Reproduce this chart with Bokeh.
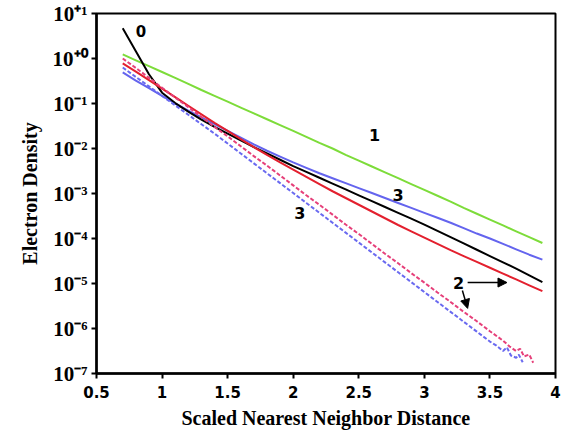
from bokeh.plotting import figure
from bokeh.models import FixedTicker, Arrow, NormalHead, ColumnDataSource
from bokeh.core.properties import value
from bokeh.embed import file_html
from bokeh.resources import INLINE

# ---- data (log10 of electron density) ----
x_grid = [0.7, 0.8, 0.9, 1.0, 1.1, 1.2, 1.3, 1.4, 1.5, 1.6, 1.7, 1.8, 1.9, 2.0, 2.1, 2.2,
          2.3, 2.4, 2.5, 2.6, 2.7, 2.8, 2.9, 3.0, 3.1, 3.2, 3.3, 3.4, 3.5, 3.6, 3.7, 3.8, 3.9]

green_log = [0.09, -0.04, -0.17, -0.30, -0.43, -0.565, -0.70, -0.83, -0.96, -1.09, -1.22,
             -1.35, -1.48, -1.61, -1.74, -1.875, -2.00, -2.14, -2.27, -2.40, -2.53, -2.66,
             -2.79, -2.92, -3.05, -3.18, -3.32, -3.45, -3.58, -3.71, -3.84, -3.97, -4.10]

black_log = [0.67, 0.16, -0.35, -0.76, -0.99, -1.18, -1.36, -1.52, -1.67, -1.82, -1.97,
             -2.11, -2.25, -2.39, -2.52, -2.65, -2.78, -2.91, -3.04, -3.17, -3.30, -3.43,
             -3.56, -3.69, -3.83, -3.97, -4.11, -4.25, -4.39, -4.53, -4.67, -4.82, -4.97]

blue_log = [-0.31, -0.49, -0.66, -0.83, -1.00, -1.16, -1.31, -1.46, -1.61, -1.76, -1.91,
            -2.05, -2.18, -2.31, -2.43, -2.55, -2.66, -2.77, -2.88, -2.99, -3.10, -3.21,
            -3.32, -3.43, -3.54, -3.65, -3.77, -3.89, -4.00, -4.12, -4.24, -4.36, -4.47]

red_log = [-0.11, -0.29, -0.48, -0.67, -0.86, -1.05, -1.24, -1.43, -1.61, -1.79, -1.97,
           -2.14, -2.31, -2.47, -2.63, -2.79, -2.95, -3.10, -3.25, -3.40, -3.55, -3.70,
           -3.84, -3.98, -4.12, -4.26, -4.39, -4.52, -4.65, -4.78, -4.91, -5.04, -5.17]

pink_dot_x = [0.7, 0.8, 0.9, 1.0, 1.1, 1.2, 1.3, 1.4, 1.5, 1.6, 1.7, 1.8, 1.9, 2.0, 2.1,
              2.2, 2.3, 2.4, 2.5, 2.6, 2.7, 2.8, 2.9, 3.0, 3.1, 3.2, 3.3, 3.4, 3.5, 3.6,
              3.65, 3.7, 3.73, 3.76, 3.8, 3.83]
pink_dot_log = [0.00, -0.21, -0.43, -0.65, -0.87, -1.08, -1.30, -1.52, -1.73, -1.95, -2.17,
                -2.38, -2.60, -2.82, -3.04, -3.25, -3.47, -3.69, -3.90, -4.12, -4.34, -4.55,
                -4.77, -4.98, -5.20, -5.41, -5.63, -5.84, -6.06, -6.27,
                -6.40, -6.50, -6.45, -6.62, -6.58, -6.76]

blue_dot_x = [0.7, 0.8, 0.9, 1.0, 1.1, 1.2, 1.3, 1.4, 1.5, 1.6, 1.7, 1.8, 1.9, 2.0, 2.1,
              2.2, 2.3, 2.4, 2.5, 2.6, 2.7, 2.8, 2.9, 3.0, 3.1, 3.2, 3.3, 3.4, 3.5,
              3.55, 3.6, 3.63, 3.66, 3.7, 3.72, 3.75]
blue_dot_log = [-0.20, -0.41, -0.62, -0.83, -1.04, -1.25, -1.46, -1.67, -1.89, -2.11, -2.33,
                -2.55, -2.77, -2.99, -3.21, -3.43, -3.65, -3.87, -4.09, -4.31, -4.53, -4.75,
                -4.97, -5.19, -5.41, -5.63, -5.85, -6.07, -6.29,
                -6.38, -6.50, -6.42, -6.60, -6.65, -6.58, -6.75]

label_text = ["0", "1", "3", "3", "2"]
label_x = [0.84, 2.62, 2.80, 2.05, 3.26]
label_y = [4.0, 1.95e-2, 9.5e-4, 3.6e-4, 1.05e-5]
label_size = ["15px", "16px", "16px", "16px", "16px"]

arrow_x0 = [3.33, 3.29]
arrow_y0 = [1.05e-5, 7.0e-6]
arrow_x1 = [3.63, 3.33]
arrow_y1 = [1.05e-5, 2.8e-6]

x_ticks = [0.5, 1.0, 1.5, 2.0, 2.5, 3.0, 3.5, 4.0]
x_tick_labels = ["0.5", "1", "1.5", "2", "2.5", "3", "3.5", "4"]
y_ticks = [1e-7, 1e-6, 1e-5, 1e-4, 1e-3, 1e-2, 1e-1, 1e0, 1e1]
y_tick_labels = ["10\u207b\u2077", "10\u207b\u2076", "10\u207b\u2075", "10\u207b\u2074",
                 "10\u207b\u00b3", "10\u207b\u00b2", "10\u207b\u00b9", "10\u207a\u2070",
                 "10\u207a\u00b9"]


def dens(logs):
    return [10 ** v for v in logs]


p = figure(width=574, height=436, x_range=(0.5, 4.0), y_range=(1e-7, 1e1),
           y_axis_type="log", output_backend="svg", toolbar_location=None,
           min_border_left=96, min_border_right=19, min_border_top=13,
           min_border_bottom=63)
p.background_fill_color = "white"
p.border_fill_color = "white"
p.xgrid.visible = False
p.ygrid.visible = False
p.outline_line_color = "black"
p.outline_line_width = 2

# axes
p.xaxis.ticker = FixedTicker(ticks=x_ticks, minor_ticks=[])
p.xaxis.major_label_overrides = {t: s for t, s in zip(x_ticks, x_tick_labels)}
p.yaxis.ticker = FixedTicker(ticks=y_ticks, minor_ticks=[])
p.yaxis.major_label_overrides = {t: s for t, s in zip(y_ticks, y_tick_labels)}

for ax in (p.xaxis[0], p.yaxis[0]):
    ax.axis_line_color = "black"
    ax.axis_line_width = 2.5
    ax.major_tick_line_color = "black"
    ax.major_tick_line_width = 2
    ax.major_tick_in = 0
    ax.major_tick_out = 5
    ax.minor_tick_line_color = None
    ax.major_label_text_color = "black"
    ax.axis_label_text_color = "black"
    ax.axis_label_text_font = "Liberation Serif"
    ax.axis_label_text_font_style = "bold"
    ax.axis_label_text_font_size = "20px"

p.xaxis.major_label_text_font = "DejaVu Sans"
p.xaxis.major_label_text_font_style = "bold"
p.xaxis.major_label_text_font_size = "15px"
p.xaxis.major_label_standoff = 7
p.xaxis.axis_label = "Scaled Nearest Neighbor Distance"
p.xaxis.axis_label_standoff = 6

p.yaxis.major_label_text_font = "Liberation Serif"
p.yaxis.major_label_text_font_style = "bold"
p.yaxis.major_label_text_font_size = "21px"
p.yaxis.major_label_standoff = 4
p.yaxis.axis_label = "Electron Density"
p.yaxis.axis_label_standoff = 9

# curves
p.line(x_grid, dens(green_log), line_color="#7ddc3a", line_width=2)
p.line(x_grid, dens(blue_log), line_color="#6464ee", line_width=2)
p.line(x_grid, dens(black_log), line_color="black", line_width=2)
p.line(x_grid, dens(red_log), line_color="#e3202e", line_width=2)
p.line(pink_dot_x, dens(pink_dot_log), line_color="#e6407a", line_width=2,
       line_dash="4 2")
p.line(blue_dot_x, dens(blue_dot_log), line_color="#6a6af0", line_width=2,
       line_dash="4 2")

# curve labels
src = ColumnDataSource(dict(x=label_x, y=label_y, t=label_text, s=label_size))
p.text(x="x", y="y", text="t", source=src, text_font=value("DejaVu Sans"),
       text_font_style="bold", text_font_size="s", text_align="center",
       text_baseline="middle", text_color="black")

for xs, ys, xe, ye in zip(arrow_x0, arrow_y0, arrow_x1, arrow_y1):
    p.add_layout(Arrow(x_start=xs, y_start=ys, x_end=xe, y_end=ye,
                       line_color="black", line_width=1.5,
                       end=NormalHead(size=9, fill_color="black",
                                      line_color="black")))

open("out.html", "w").write(file_html(p, INLINE))
